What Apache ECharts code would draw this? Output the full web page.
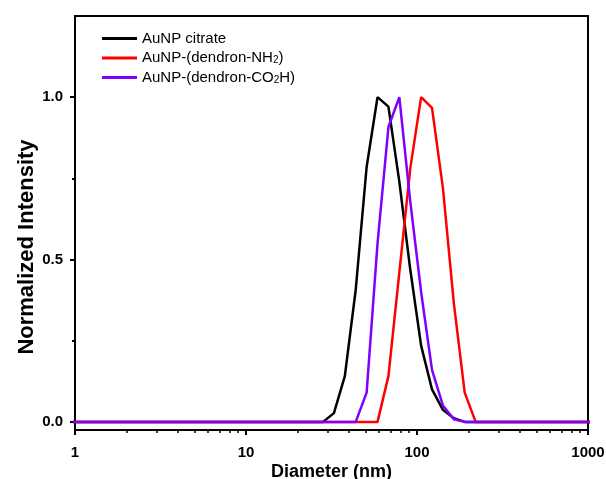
<!DOCTYPE html>
<html>
<head>
<meta charset="utf-8">
<script src="https://cdn.jsdelivr.net/npm/echarts@6/dist/echarts.min.js"></script>
<style>
html,body{margin:0;padding:0;background:#fff;}
#chart{width:606px;height:479px;}
</style>
</head>
<body>
<div id="chart"></div>
<script>
// Diameter bins (nm)
const diameters = [0.9649, 1.117, 1.294, 1.499, 1.736, 2.010, 2.328, 2.696, 3.122, 3.615, 4.187, 4.849, 5.615, 6.503, 7.531, 8.721, 10.10, 11.70, 13.54, 15.69, 18.17, 21.04, 24.36, 28.21, 32.67, 37.84, 43.82, 50.75, 58.77, 68.06, 78.82, 91.28, 105.7, 122.4, 141.8, 164.2, 190.1, 220.2, 255.0, 295.3, 342.0, 396.1, 458.7, 531.2, 615.1, 712.4, 825.0, 955.4, 1106];
const seriesNames = ['AuNP citrate', 'AuNP-(dendron-NH2)', 'AuNP-(dendron-CO2H)'];
const citrate = [0,0,0,0,0,0,0,0,0,0, 0,0,0,0,0,0,0,0,0,0, 0,0,0,0, 0.027, 0.141, 0.407, 0.785, 1.0, 0.971, 0.74, 0.47, 0.235, 0.10, 0.037, 0.011, 0, 0,0,0,0,0,0,0,0,0,0,0,0];
const dendronNH2 = [0,0,0,0,0,0,0,0,0,0, 0,0,0,0,0,0,0,0,0,0, 0,0,0,0, 0, 0, 0, 0, 0, 0.141, 0.46, 0.78, 1.0, 0.967, 0.72, 0.366, 0.09, 0, 0,0,0,0,0,0,0,0,0,0,0];
const dendronCO2H = [0,0,0,0,0,0,0,0,0,0, 0,0,0,0,0,0,0,0,0,0, 0,0,0,0, 0, 0, 0, 0.09, 0.55, 0.908, 1.0, 0.68, 0.40, 0.16, 0.05, 0.008, 0, 0,0,0,0,0,0,0,0,0,0,0,0];
const colors = ['#000000', '#ff0000', '#8000ff'];
const xTickLabels = [1, 10, 100, 1000];
const yTickLabels = [0, 0.5, 1.0];
const yMinorTicks = [0.25, 0.75];

const valuesList = [citrate, dendronNH2, dendronCO2H];
const chart = echarts.init(document.getElementById('chart'), null, {renderer: 'canvas'});
const fontFam = 'Arial, "Liberation Sans", sans-serif';

const series = seriesNames.map((name, i) => ({
  name: name,
  type: 'line',
  xAxisIndex: 0,
  yAxisIndex: 0,
  data: diameters.map((d, j) => [d, valuesList[i][j]]),
  symbol: 'none',
  showSymbol: false,
  lineStyle: {color: colors[i], width: 2.5},
  itemStyle: {color: colors[i]},
  clip: true,
  z: 2 + i
}));

chart.setOption({
  animation: false,
  backgroundColor: '#ffffff',
  grid: {left: 75, right: 18, top: 16, bottom: 49, outerBoundsMode: 'none', containLabel: false,
    show: true, borderColor: '#000', borderWidth: 2, backgroundColor: 'transparent'},
  legend: {
    orient: 'vertical',
    left: 102,
    top: 31,
    padding: 0,
    icon: 'rect',
    itemWidth: 35,
    itemHeight: 3,
    itemGap: 4.5,
    data: seriesNames,
    textStyle: {
      fontFamily: fontFam, fontSize: 15, color: '#000', lineHeight: 15,
      rich: {
        s: {fontFamily: fontFam, fontSize: 10, color: '#000', verticalAlign: 'bottom', padding: [6, 0, 0, 0]}
      }
    },
    formatter: function (name) {
      return name.replace(/(NH|CO)2/, '$1{s|2}');
    }
  },
  xAxis: [{
    type: 'log',
    logBase: 10,
    min: 1,
    max: 1000,
    name: 'Diameter (nm)',
    nameLocation: 'middle',
    nameGap: 33,
    nameMoveOverlap: false,
    nameTextStyle: {fontFamily: fontFam, fontSize: 18, fontWeight: 'bold', color: '#000'},
    axisLine: {show: true, onZero: false, lineStyle: {color: '#000', width: 2}},
    axisTick: {show: true, inside: false, length: 5, lineStyle: {color: '#000', width: 2}},
    minorTick: {show: true, splitNumber: 9, length: 3, lineStyle: {color: '#000', width: 1.5}},
    axisLabel: {fontFamily: fontFam, fontSize: 15, fontWeight: 'bold', color: '#000', margin: 15,
      formatter: function (v) { return xTickLabels.indexOf(Math.round(v)) >= 0 ? String(Math.round(v)) : ''; }},
    splitLine: {show: false},
    minorSplitLine: {show: false}
  }],
  yAxis: [{
    type: 'value',
    min: -0.025,
    max: 1.25,
    name: 'Normalized Intensity',
    nameLocation: 'middle',
    nameGap: 37,
    nameMoveOverlap: false,
    nameTextStyle: {fontFamily: fontFam, fontSize: 22, fontWeight: 'bold', color: '#000', padding: [0, 48, 0, 0]},
    axisLine: {show: true, onZero: false, lineStyle: {color: '#000', width: 2}},
    axisTick: {show: true, inside: false, length: 5, customValues: yTickLabels, lineStyle: {color: '#000', width: 2}},
    axisLabel: {fontFamily: fontFam, fontSize: 15, fontWeight: 'bold', color: '#000', margin: 12, customValues: yTickLabels,
      formatter: function (v) { return v.toFixed(1); }},
    splitLine: {show: false}
  }, {
    type: 'value',
    min: -0.025,
    max: 1.25,
    position: 'left',
    axisLine: {show: false},
    axisTick: {show: true, inside: false, length: 3, customValues: yMinorTicks, lineStyle: {color: '#000', width: 2}},
    axisLabel: {show: false},
    splitLine: {show: false}
  }],
  series: series
});
</script>
</body>
</html>
